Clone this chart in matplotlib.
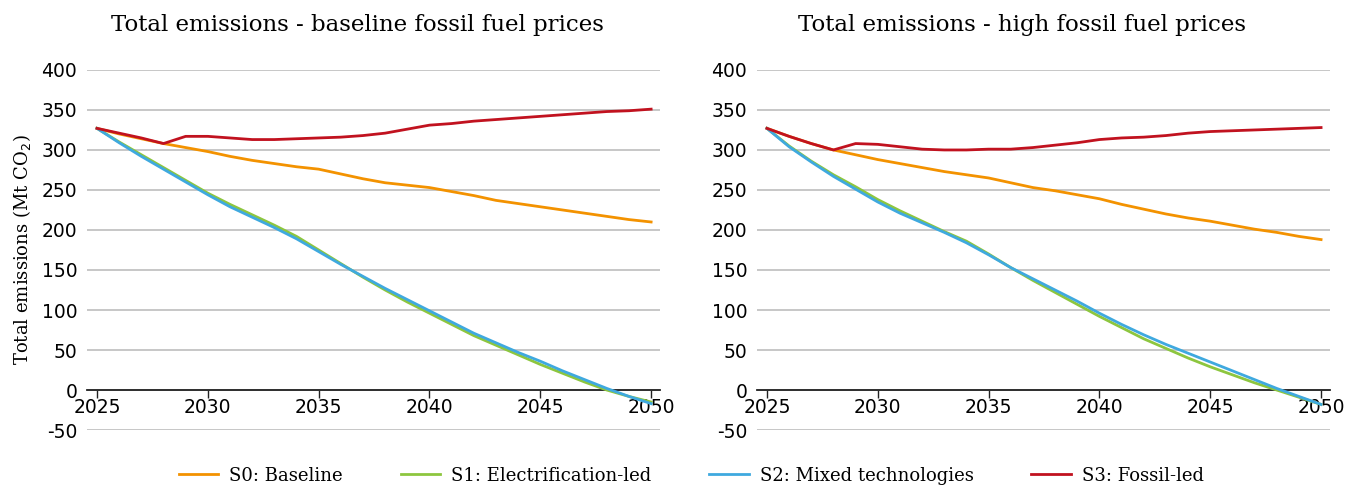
import matplotlib
matplotlib.use("Agg")
from matplotlib import pyplot as plt

plt.rcParams["axes.unicode_minus"] = False

# 年份
years = list(range(2025, 2051))

# 基准化石燃料价格
base_s0 = [327, 320, 314, 308, 303, 298, 292, 287, 283, 279, 276, 270, 264, 259, 256,
           253, 248, 243, 237, 233, 229, 225, 221, 217, 213, 210]
base_s1 = [327, 310, 294, 278, 262, 246, 232, 219, 206, 192, 175, 158, 141, 125, 110,
           96, 82, 68, 56, 44, 32, 21, 10, 0, -8, -15]
base_s2 = [327, 309, 292, 276, 260, 244, 229, 216, 203, 189, 173, 157, 142, 127, 113,
           99, 85, 71, 59, 47, 36, 24, 13, 2, -8, -17]
base_s3 = [327, 321, 315, 308, 317, 317, 315, 313, 313, 314, 315, 316, 318, 321, 326,
           331, 333, 336, 338, 340, 342, 344, 346, 348, 349, 351]

# 高化石燃料价格
high_s0 = [327, 317, 308, 300, 294, 288, 283, 278, 273, 269, 265, 259, 253, 249, 244,
           239, 232, 226, 220, 215, 211, 206, 201, 197, 192, 188]
high_s1 = [327, 305, 286, 269, 254, 238, 224, 211, 198, 186, 170, 153, 137, 122, 107,
           92, 78, 64, 52, 40, 29, 19, 9, 0, -9, -18]
high_s2 = [327, 304, 285, 267, 251, 235, 221, 209, 197, 184, 169, 153, 139, 125, 111,
           96, 82, 69, 57, 46, 35, 24, 13, 2, -8, -18]
high_s3 = [327, 317, 308, 300, 308, 307, 304, 301, 300, 300, 301, 301, 303, 306, 309,
           313, 315, 316, 318, 321, 323, 324, 325, 326, 327, 328]

names = ["S0: Baseline", "S1: Electrification-led", "S2: Mixed technologies", "S3: Fossil-led"]
colors = ["#F39200", "#8DC63F", "#3FA9DF", "#C1121F"]
titles = ["Total emissions - baseline fossil fuel prices",
          "Total emissions - high fossil fuel prices"]
yticks = [-50, 0, 50, 100, 150, 200, 250, 300, 350, 400]
xticks = [2025, 2030, 2035, 2040, 2045, 2050]

serif = "DejaVu Serif"
sans = "DejaVu Sans"

fig = plt.figure(figsize=(13.45, 4.96), dpi=100)
ax1 = fig.add_axes([0.0647, 0.133, 0.426, 0.726])
ax2 = fig.add_axes([0.5628, 0.133, 0.426, 0.726])

panels = [(ax1, [base_s0, base_s1, base_s2, base_s3]),
          (ax2, [high_s0, high_s1, high_s2, high_s3])]
title_x = [0.472, 0.462]

for i, (ax, series) in enumerate(panels):
    for vals, c, n in zip(series, colors, names):
        ax.plot(years, vals, color=c, lw=2, label=n, zorder=3)
    ax.set_xlim(2024.55, 2050.4)
    ax.set_ylim(-50, 400)
    ax.set_yticks(yticks)
    ax.set_xticks(xticks)
    ax.grid(axis="y", color="#b8b8b8", lw=1.1, zorder=0)
    for s in ["top", "right", "left"]:
        ax.spines[s].set_visible(False)
    ax.spines["bottom"].set_position(("data", 0))
    ax.spines["bottom"].set_color("#222222")
    ax.spines["bottom"].set_linewidth(1.3)
    ax.spines["bottom"].set_zorder(2)
    ax.tick_params(axis="y", length=0, pad=7, labelsize=13.5)
    ax.tick_params(axis="x", length=6, width=1, direction="out", pad=0,
                   labelsize=13.5, color="#222222")
    for lab in ax.get_xticklabels() + ax.get_yticklabels():
        lab.set_fontfamily(sans)
    ax.set_title(titles[i], fontsize=16.5, family=serif, pad=28, x=title_x[i])

ax1.set_ylabel("Total emissions (Mt CO$_2$)", fontsize=13, family=serif, labelpad=6)

handles, labels = ax1.get_legend_handles_labels()
fig.legend(handles, labels, loc="lower center", ncol=4, frameon=False,
           bbox_to_anchor=(0.514, -0.01), prop={"family": serif, "size": 13},
           handlelength=2.2, columnspacing=3.2, handletextpad=0.6)

plt.savefig("out.png", dpi=100)
